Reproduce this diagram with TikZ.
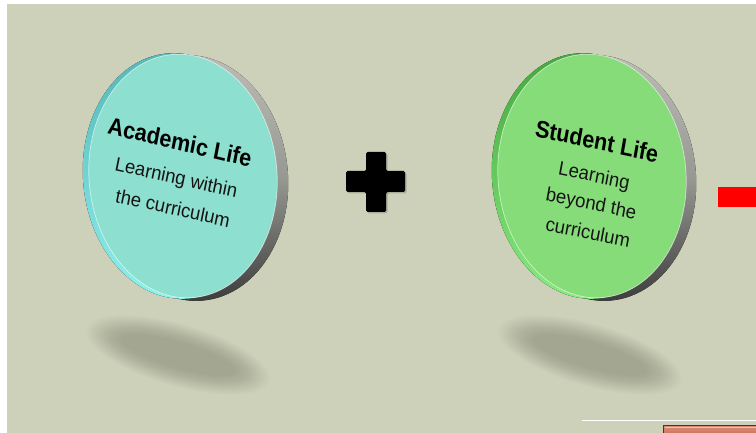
\documentclass[tikz,border=0pt]{standalone}
\usepackage{fontspec}
\setmainfont{Liberation Sans}
\definecolor{bg}{HTML}{CDD1BA}
\definecolor{shadowc}{HTML}{5A5E4C}
\definecolor{rimtop}{HTML}{BDBEB6}
\definecolor{rimbot}{HTML}{3A3A3A}
\definecolor{tealface}{HTML}{8DDFCF}
\definecolor{tealbevtop}{HTML}{55B6B8}
\definecolor{tealbevbot}{HTML}{8EF2EE}
\definecolor{greenface}{HTML}{85DC79}
\definecolor{greenbevtop}{HTML}{44A63C}
\definecolor{greenbevbot}{HTML}{88EC80}
\definecolor{btntop}{HTML}{DA8C74}
\definecolor{btnbot}{HTML}{C4644E}
\definecolor{btnedge}{HTML}{3A3A3A}
\tikzset{
  titletext/.style={font=\fontsize{24}{26}\selectfont\bfseries, inner sep=0pt, text=black, xscale=0.9},
  subtext/.style={font=\fontsize{19.5}{21}\selectfont, inner sep=0pt, text=black!92, xscale=0.95},
}
\begin{document}
\begin{tikzpicture}[x=1pt,y=1pt]
\useasboundingbox (0,0) rectangle (756,-433);
\fill[white] (0,0) rectangle (756,-433);
\fill[bg] (7,-4) rectangle (756,-433);

% shadows
\foreach \cx in {178,590} {
  \foreach \k in {0,...,15} {
    \fill[shadowc, opacity=0.022, rotate around={-16:(\cx,-355)}]
      (\cx,-355) ellipse ({95-2.4*\k} and {31-1.2*\k});
  }
}

% disc 1 (Academic)
\fill[top color=rimtop, bottom color=rimbot, middle color=rimtop!80!black, rotate around={5:(192,-178)}]
  (192,-178) ellipse (96 and 123);
\fill[top color=tealbevtop, bottom color=tealbevbot, rotate around={5:(178,-176)}]
  (178,-176) ellipse (95 and 123);
\filldraw[fill=tealface, draw=white, draw opacity=0.6, line width=0.7, rotate around={5:(183,-176)}]
  (183,-176) ellipse (94 and 122);

% disc 2 (Student)
\fill[top color=rimtop, bottom color=rimbot, middle color=rimtop!80!black, rotate around={5:(600,-178)}]
  (600,-178) ellipse (96 and 123);
\fill[top color=greenbevtop, bottom color=greenbevbot, rotate around={5:(587,-176)}]
  (587,-176) ellipse (95 and 123);
\filldraw[fill=greenface, draw=white, draw opacity=0.6, line width=0.7, rotate around={5:(592,-176)}]
  (592,-176) ellipse (94 and 122);

% texts
\node[titletext, rotate=-12] (acad) at (180,-142) {Academic Life};
\node[subtext, rotate=-12] (acad2) at (176,-179) {Learning within};
\node[subtext, rotate=-12] (acad3) at (173,-208) {the curriculum};

\node[titletext, rotate=-11] (stud) at (597,-141) {Student Life};
\node[subtext, rotate=-11] (stud2) at (594,-177) {Learning};
\node[subtext, rotate=-11] (stud3) at (591,-205) {beyond the};
\node[subtext, rotate=-11] (stud4) at (588,-232) {curriculum};

% plus sign
\fill[black, opacity=0.18, rounded corners=2, xshift=1.5, yshift=-1.5]
  (366,-152) -- (386,-152) -- (386,-171) -- (405,-171) -- (405,-192) -- (386,-192) -- (386,-212)
  -- (366,-212) -- (366,-192) -- (346,-192) -- (346,-171) -- (366,-171) -- cycle;
\fill[black, rounded corners=1.5]
  (366,-152) -- (386,-152) -- (386,-171) -- (405,-171) -- (405,-192) -- (386,-192) -- (386,-212)
  -- (366,-212) -- (366,-192) -- (346,-192) -- (346,-171) -- (366,-171) -- cycle;

% red bar
\fill[red] (718,-187) rectangle (757,-207);

% bottom right line and button
\draw[white, line width=1.3] (582,-420.5) -- (757,-420.5);
\draw[top color=btntop, bottom color=btnbot, draw=btnedge, line width=1] (663.5,-425.5) rectangle (760,-440);
\draw[white, opacity=0.5, line width=0.6] (665,-427) -- (760,-427);
\end{tikzpicture}
\end{document}
